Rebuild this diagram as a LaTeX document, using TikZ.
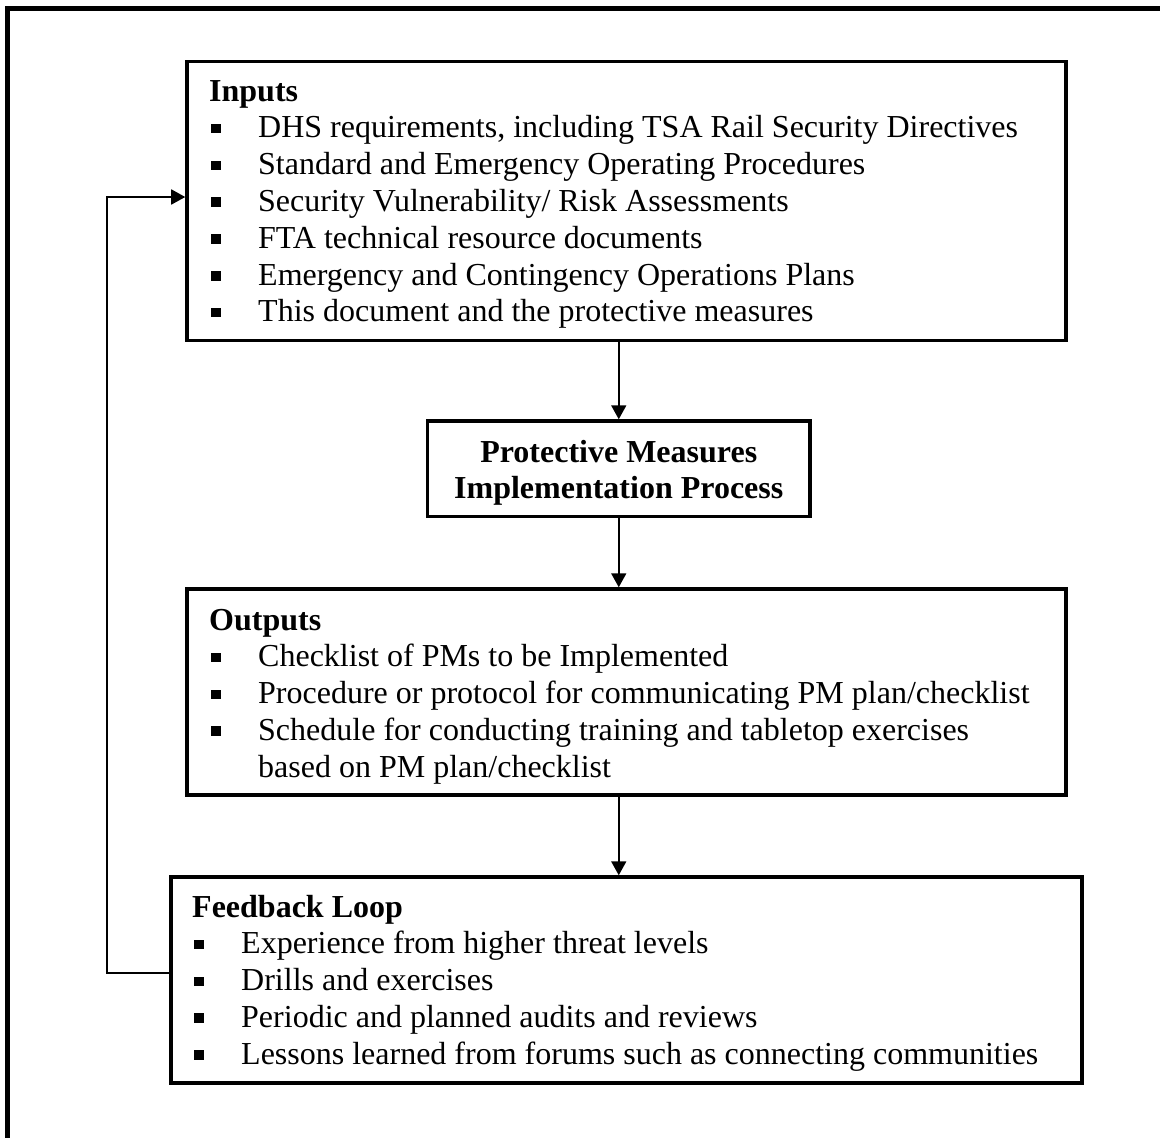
\documentclass[tikz,border=0pt]{standalone}
\usepackage{fontspec}
\setmainfont{Liberation Serif}
\usetikzlibrary{arrows.meta}
\newcommand\bitem{\makebox[49bp][l]{\hspace{2bp}\rule[4.5bp]{9.5bp}{9.5bp}}}
\newcommand\fsz{\fontsize{32bp}{36.8bp}\selectfont}
\begin{document}
\begin{tikzpicture}[x=1bp,y=-1bp,
  box/.style={draw, line width=3.5bp, inner sep=0pt, fill=white},
  conn/.style={line width=1.8bp, -{Triangle[length=14bp,width=15bp]}},
  txt/.style={inner sep=0pt, anchor=base west}]
\useasboundingbox[fill=white] (0,0) rectangle (1160,1138);
\begin{scope}
\clip (0,0) rectangle (1160,1138);
\draw[line width=4.5bp] (7.5,1200) -- (7.5,8.5) -- (1200,8.5);
\end{scope}
% boxes
\node[box, minimum width=879bp, minimum height=279bp] (inputs) at (626.5,201) {};
\node[box, minimum width=382.5bp, minimum height=95.5bp] (pm) at (618.75,468.75) {};
\node[box, minimum width=879bp, minimum height=206bp] (outputs) at (626.5,692) {};
\node[box, minimum width=911bp, minimum height=206bp] (feedback) at (626.5,980) {};
% texts
\node[txt] (inTxt) at (209,101) {\parbox[t]{900bp}{\fsz\textbf{Inputs}\\
\bitem DHS requirements, including TSA Rail Security Directives\\
\bitem Standard and Emergency Operating Procedures\\
\bitem Security Vulnerability/ Risk Assessments\\
\bitem FTA technical resource documents\\
\bitem Emergency and Contingency Operations Plans\\
\bitem This document and the protective measures}};
\node[inner sep=0pt, anchor=base] (pmTxt) at (618.75,462) {\parbox[t]{380bp}{\centering\fsz\bfseries Protective Measures\\Implementation Process}};
\node[txt] (outTxt) at (209,630) {\parbox[t]{900bp}{\fsz\textbf{Outputs}\\
\bitem Checklist of PMs to be Implemented\\
\bitem Procedure or protocol for communicating PM plan/checklist\\
\bitem Schedule for conducting training and tabletop exercises\\
\hspace*{49bp}based on PM plan/checklist}};
\node[txt] (fbTxt) at (192,917) {\parbox[t]{900bp}{\fsz\textbf{Feedback Loop}\\
\bitem Experience from higher threat levels\\
\bitem Drills and exercises\\
\bitem Periodic and planned audits and reviews\\
\bitem Lessons learned from forums such as connecting communities}};
% connectors
\draw[conn] (pm.north |- inputs.south) -- (pm.north);
\draw[conn] (pm.south) -- (pm.south |- outputs.north);
\draw[conn] (pm.south |- outputs.south) -- (pm.south |- feedback.north);
\coordinate (loopB) at (107,973);
\coordinate (loopT) at (107,197);
\draw[conn] (feedback.west |- loopB) -- (loopB) -- (loopT) -- (inputs.west |- loopT);
\end{tikzpicture}
\end{document}
